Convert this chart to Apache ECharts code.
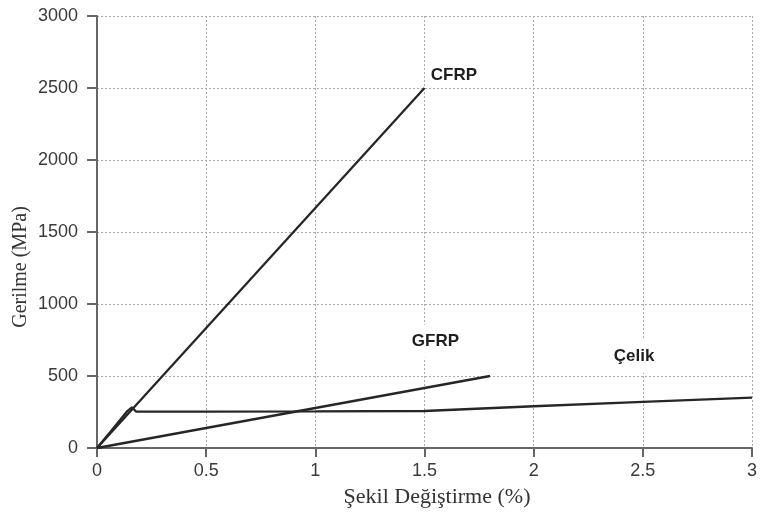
<!DOCTYPE html>
<html>
<head>
<meta charset="utf-8">
<script src="https://cdn.jsdelivr.net/npm/echarts@6/dist/echarts.min.js"></script>
<style>html,body{margin:0;padding:0;background:#fff;}#c{width:760px;height:517px;}</style>
</head>
<body>
<div id="c"></div>
<script>
// Strain (%) vs stress (MPa)
var cfrpData = [[0, 0], [1.5, 2500]];
var gfrpData = [[0, 0], [1.8, 500]];
var steelData = [[0, 0], [0.06, 110], [0.14, 258], [0.16, 282], [0.18, 252], [0.5, 252], [1.0, 254], [1.5, 257], [2.0, 290], [2.5, 320], [3.0, 350]];
var seriesNames = ['CFRP', 'GFRP', 'Çelik'];
var xTicks = [0, 0.5, 1, 1.5, 2, 2.5, 3];
var yTicks = [0, 500, 1000, 1500, 2000, 2500, 3000];
var xTitle = 'Şekil Değiştirme (%)';
var yTitle = 'Gerilme (MPa)';

var chart = echarts.init(document.getElementById('c'), null, {renderer: 'canvas'});
var lineStyle = {color: '#262626', width: 2.3};
function nameLabel(name, coord, bg) {
  return {
    symbol: 'rect', symbolSize: [1, 1],
    itemStyle: {color: 'rgba(0,0,0,0)'},
    data: [{coord: coord, value: name}],
    label: {
      show: true, position: 'inside', formatter: name,
      fontFamily: 'Liberation Sans, Arial, sans-serif', fontWeight: 'bold', fontSize: 17,
      color: '#1e1e1e', backgroundColor: bg ? '#ffffff' : 'transparent', padding: bg ? [8, 24, 8, 24] : 0
    },
    silent: true
  };
}
var axisLabelStyle = {fontFamily: 'Liberation Sans, Arial, sans-serif', fontSize: 18, color: '#3a3a3a'};
var option = {
  backgroundColor: '#ffffff',
  animation: false,
  grid: {left: 97, right: 5, top: 16, bottom: 69, containLabel: false},
  xAxis: {
    type: 'value', min: 0, max: 3, interval: 0.5,
    axisLine: {show: true, lineStyle: {color: '#666', width: 2}},
    axisTick: {show: true, inside: false, length: 9, lineStyle: {color: '#666', width: 2}},
    axisLabel: Object.assign({margin: 14, formatter: function (v) { return xTicks.indexOf(v) >= 0 ? String(v) : ''; }}, axisLabelStyle),
    splitLine: {show: true, lineStyle: {color: '#aaa', type: [2, 2], width: 1}}
  },
  yAxis: {
    type: 'value', min: 0, max: 3000, interval: 500,
    axisLine: {show: true, lineStyle: {color: '#666', width: 2}},
    axisTick: {show: true, inside: false, length: 10, lineStyle: {color: '#666', width: 2}},
    axisLabel: Object.assign({margin: 19, formatter: function (v) { return yTicks.indexOf(v) >= 0 ? String(v) : ''; }}, axisLabelStyle),
    splitLine: {show: true, lineStyle: {color: '#aaa', type: [2, 2], width: 1}}
  },
  graphic: [
    {type: 'text', x: 437, y: 497, style: {text: xTitle, font: '22px "Liberation Serif", "Times New Roman", serif', fill: '#333', align: 'center', verticalAlign: 'middle'}},
    {type: 'text', x: 21, y: 267, rotation: Math.PI / 2, style: {text: yTitle, font: '20px "Liberation Serif", "Times New Roman", serif', fill: '#333', align: 'center', verticalAlign: 'middle'}}
  ],
  series: [
    {name: seriesNames[0], type: 'line', data: cfrpData, showSymbol: false, lineStyle: lineStyle, markPoint: nameLabel(seriesNames[0], [1.635, 2590], false), z: 3},
    {name: seriesNames[1], type: 'line', data: gfrpData, showSymbol: false, lineStyle: lineStyle, markPoint: nameLabel(seriesNames[1], [1.55, 741], true), z: 3},
    {name: seriesNames[2], type: 'line', data: steelData, showSymbol: false, lineStyle: lineStyle, markPoint: nameLabel(seriesNames[2], [2.46, 637], true), z: 3}
  ]
};
chart.setOption(option);
</script>
</body>
</html>
